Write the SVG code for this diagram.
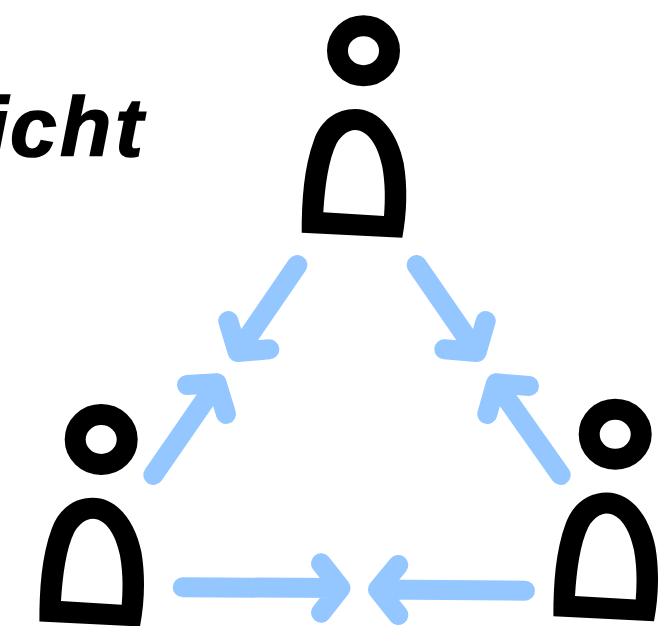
<svg xmlns="http://www.w3.org/2000/svg" xmlns:xlink="http://www.w3.org/1999/xlink" width="658" height="626" viewBox="0 0 658 626">
<style>
.head{fill:none;stroke:#000;stroke-width:21}
.body{fill:#000;fill-rule:evenodd}
.arrow{fill:none;stroke:#94C7FF;stroke-width:20;stroke-linecap:round;stroke-linejoin:round}
.title{font-family:"Liberation Sans",Arial,sans-serif;font-weight:bold;font-style:italic;font-size:84px;fill:#000;stroke:#000;stroke-width:1.5}
</style>
<defs>
<g id="person">
<ellipse class="head" cx="363.5" cy="50.7" rx="26" ry="25"/>
<path class="body" d="M301.7,232.7C301.7,200 304,166.7 314,140C321,120 336.7,109 355,109C380,109 397.7,133.3 403.7,163.3C407.7,186.7 407,213.3 402.3,237.7ZM323.3,212.3C325,186.7 328.3,160 336.7,143.3C341.7,135 348.3,130 355,130C368.3,130 378.3,146.7 382.3,166.7C385.3,183.3 385.3,200 384,216Z"/>
</g>
</defs>
<rect width="658" height="626" fill="#fff"/>
<text class="title" x="-15 10 60 115" y="156">icht</text>
<g id="person-top"><use href="#person"/></g>
<g id="person-left"><use href="#person" transform="translate(-262.3,388.8)"/></g>
<g id="person-right"><use href="#person" transform="translate(251.7,383.6)"/></g>
<g id="connectors">
<path class="arrow" d="M297.3,265L237.7,352M228.3,321L237.7,352L269.3,349.3"/>
<path class="arrow" d="M416.7,265L476.7,352M485.7,321L476.7,352L444.3,349.3"/>
<path class="arrow" d="M153.3,475L216.7,383.3M187,385L216.7,383.3L226,414"/>
<path class="arrow" d="M560.7,475L496,383.3M529,386L496,383.3L487.3,414"/>
<path class="arrow" d="M182.7,587.3L340.5,588M321,563.3L340.5,588L321,612.7"/>
<path class="arrow" d="M525,590.7L378,589.5M398.3,565L378,589.5L398.3,615"/>
</g>
</svg>
